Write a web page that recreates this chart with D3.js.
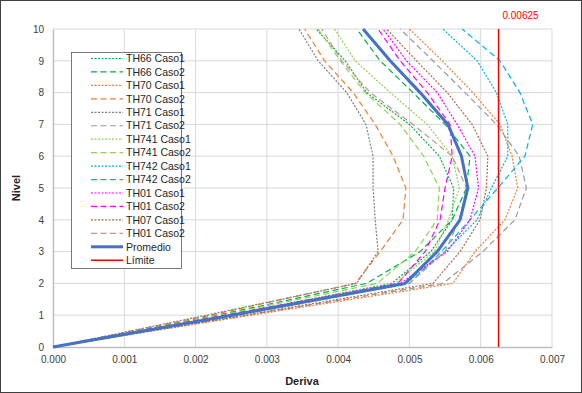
<!DOCTYPE html>
<meta charset="utf-8">
<style>
  body { margin: 0; background: #fff; }
  svg { font-family: "Liberation Sans", Arial, sans-serif; }
</style>
<body>
<div id="chart"></div>
<script src="https://d3js.org/d3.v7.min.js"></script>
<script>

// niveles (eje y)
var niveles = [0, 1, 2, 3, 4, 5, 6, 7, 8, 9, 10];

// derivas por nivel
var th66c1  = [0, 0.00245, 0.00475, 0.00530, 0.00560, 0.00562, 0.00542, 0.00500, 0.00440, 0.00410, 0.00369];
var th66c2  = [0, 0.00230, 0.00440, 0.00515, 0.00560, 0.00580, 0.00585, 0.00550, 0.00505, 0.00459, 0.00426];
var th70c1  = [0, 0.00278, 0.00561, 0.00592, 0.00634, 0.00652, 0.00644, 0.00627, 0.00589, 0.00546, 0.00500];
var th70c2  = [0, 0.00220, 0.00424, 0.00459, 0.00491, 0.00495, 0.00477, 0.00452, 0.00421, 0.00381, 0.00353];
var th71c1  = [0, 0.00215, 0.00426, 0.00456, 0.00452, 0.00449, 0.00449, 0.00439, 0.00412, 0.00372, 0.00345];
var th71c2  = [0, 0.00272, 0.00547, 0.00603, 0.00648, 0.00664, 0.00654, 0.00622, 0.00578, 0.00533, 0.00487];
var th741c1 = [0, 0.00245, 0.00480, 0.00535, 0.00555, 0.00570, 0.00560, 0.00525, 0.00473, 0.00424, 0.00395];
var th741c2 = [0, 0.00235, 0.00455, 0.00508, 0.00539, 0.00542, 0.00520, 0.00487, 0.00438, 0.00403, 0.00372];
var th742c1 = [0, 0.00250, 0.00495, 0.00550, 0.00595, 0.00615, 0.00638, 0.00638, 0.00622, 0.00595, 0.00547];
var th742c2 = [0, 0.00252, 0.00500, 0.00545, 0.00585, 0.00624, 0.00662, 0.00673, 0.00655, 0.00627, 0.00574];
var th01c1  = [0, 0.00245, 0.00487, 0.00553, 0.00585, 0.00597, 0.00592, 0.00567, 0.00539, 0.00496, 0.00463];
var th01c2  = [0, 0.00241, 0.00484, 0.00522, 0.00543, 0.00550, 0.00560, 0.00557, 0.00525, 0.00487, 0.00456];
var th07c1  = [0, 0.00268, 0.00533, 0.00571, 0.00599, 0.00608, 0.00610, 0.00588, 0.00553, 0.00510, 0.00468];
var th01c2b = [0, 0.00260, 0.00500, 0.00550, 0.00570, 0.00580, 0.00560, 0.00505, 0.00445, 0.00405, 0.00377];
var promedio = [0, 0.00251, 0.00494, 0.00539, 0.00571, 0.00582, 0.00573, 0.00554, 0.00515, 0.00473, 0.00435];
var limite = 0.00625;

var xTicks = [0, 0.001, 0.002, 0.003, 0.004, 0.005, 0.006, 0.007];

var dotted = "2,1.5", dashed = "6,3.5";
var series = [
  {name: "TH66 Caso1",  vals: th66c1,  color: "#00b050", dash: dotted},
  {name: "TH66 Caso2",  vals: th66c2,  color: "#00b050", dash: dashed},
  {name: "TH70 Caso1",  vals: th70c1,  color: "#ed7d31", dash: dotted},
  {name: "TH70 Caso2",  vals: th70c2,  color: "#ed7d31", dash: dashed},
  {name: "TH71 Caso1",  vals: th71c1,  color: "#7f7f7f", dash: dotted},
  {name: "TH71 Caso2",  vals: th71c2,  color: "#999999", dash: dashed},
  {name: "TH741 Caso1", vals: th741c1, color: "#92d050", dash: dotted},
  {name: "TH741 Caso2", vals: th741c2, color: "#92d050", dash: dashed},
  {name: "TH742 Caso1", vals: th742c1, color: "#00b0f0", dash: dotted},
  {name: "TH742 Caso2", vals: th742c2, color: "#00b0f0", dash: dashed},
  {name: "TH01 Caso1",  vals: th01c1,  color: "#ff00ff", dash: dotted},
  {name: "TH01 Caso2",  vals: th01c2,  color: "#ff00ff", dash: dashed},
  {name: "TH07 Caso1",  vals: th07c1,  color: "#b0674a", dash: dotted},
  {name: "TH01 Caso2",  vals: th01c2b, color: "#c4968a", dash: dashed}
];

var W = 582, H = 393;
var svg = d3.select("#chart").append("svg")
  .attr("width", W).attr("height", H);

svg.append("rect")
  .attr("x", 0.5).attr("y", 0.5)
  .attr("width", W - 1).attr("height", H - 1)
  .attr("fill", "#fff").attr("stroke", "#404040");

var x = d3.scaleLinear().domain([0, 0.007]).range([53, 552]);
var y = d3.scaleLinear().domain([0, 10]).range([347, 29]);

// grid
svg.append("g")
  .selectAll("line").data(niveles.slice(1)).enter().append("line")
  .attr("x1", x(0)).attr("x2", x(0.007))
  .attr("y1", function(d) { return y(d); }).attr("y2", function(d) { return y(d); })
  .attr("stroke", "#d9d9d9").attr("stroke-width", 1);

svg.append("g")
  .selectAll("line").data(xTicks.slice(1)).enter().append("line")
  .attr("x1", function(d) { return x(d); }).attr("x2", function(d) { return x(d); })
  .attr("y1", y(0)).attr("y2", y(10))
  .attr("stroke", "#d9d9d9").attr("stroke-width", 1);

// axes
var xAxis = svg.append("g")
  .attr("transform", "translate(0," + y(0) + ")")
  .call(d3.axisBottom(x).tickValues(xTicks).tickFormat(d3.format(".3f")).tickSize(0).tickPadding(9));
xAxis.select(".domain").attr("stroke", "#bfbfbf").attr("stroke-width", 1.5);
xAxis.selectAll("text").attr("font-size", 10).attr("fill", "#404040")
  .attr("font-family", "Liberation Sans, Arial, sans-serif");

var yAxis = svg.append("g")
  .attr("transform", "translate(" + x(0) + ",0)")
  .call(d3.axisLeft(y).tickValues(niveles).tickSize(0).tickPadding(9));
yAxis.select(".domain").attr("stroke", "#bfbfbf").attr("stroke-width", 1.5);
yAxis.selectAll("text").attr("font-size", 10).attr("fill", "#404040")
  .attr("font-family", "Liberation Sans, Arial, sans-serif");

svg.append("text")
  .attr("x", 302).attr("y", 385)
  .attr("text-anchor", "middle")
  .attr("font-size", 11).attr("font-weight", "bold").attr("fill", "#262626")
  .text("Deriva");

svg.append("text")
  .attr("transform", "translate(20,188) rotate(-90)")
  .attr("text-anchor", "middle")
  .attr("font-size", 11).attr("font-weight", "bold").attr("fill", "#262626")
  .text("Nivel");

// lineas
var line = d3.line()
  .x(function(d) { return x(d[0]); })
  .y(function(d) { return y(d[1]); });

svg.append("g").selectAll("path").data(series).enter().append("path")
  .attr("d", function(s) { return line(s.vals.map(function(v, i) { return [v, niveles[i]]; })); })
  .attr("fill", "none")
  .attr("stroke", function(s) { return s.color; })
  .attr("stroke-width", 1.2)
  .attr("stroke-dasharray", function(s) { return s.dash; });

svg.append("path")
  .attr("d", line(promedio.map(function(v, i) { return [v, niveles[i]]; })))
  .attr("fill", "none")
  .attr("stroke", "#4472c4")
  .attr("stroke-width", 3)
  .attr("stroke-linejoin", "round");

svg.append("line")
  .attr("x1", x(limite)).attr("x2", x(limite))
  .attr("y1", y(0)).attr("y2", y(10))
  .attr("stroke", "#ff0000").attr("stroke-width", 1.5);

svg.append("text")
  .attr("x", x(limite) + 22).attr("y", 19)
  .attr("text-anchor", "middle")
  .attr("font-size", 10).attr("fill", "#ff0000")
  .text(d3.format(".5f")(limite));

// leyenda
var items = series.map(function(s) { return {name: s.name, color: s.color, dash: s.dash, w: 1.2}; });
items.push({name: "Promedio", color: "#4472c4", dash: null, w: 3});
items.push({name: "Límite", color: "#ff0000", dash: null, w: 1.5});

var leg = svg.append("g").attr("transform", "translate(71,52)");
leg.append("rect")
  .attr("x", 0.5).attr("y", 0.5)
  .attr("width", 110).attr("height", 216)
  .attr("fill", "#fff").attr("stroke", "#595959").attr("stroke-width", 0.8);

var row = leg.selectAll("g.row").data(items).enter().append("g")
  .attr("class", "row")
  .attr("transform", function(d, i) { return "translate(0," + (6.5 + i * 13.45) + ")"; });

row.append("line")
  .attr("x1", 20).attr("x2", 52)
  .attr("stroke", function(d) { return d.color; })
  .attr("stroke-width", function(d) { return d.w; })
  .attr("stroke-dasharray", function(d) { return d.dash; });

row.append("text")
  .attr("x", 55).attr("y", 3.7)
  .attr("font-size", 10.5).attr("fill", "#262626")
  .text(function(d) { return d.name; });

</script>
</body>
